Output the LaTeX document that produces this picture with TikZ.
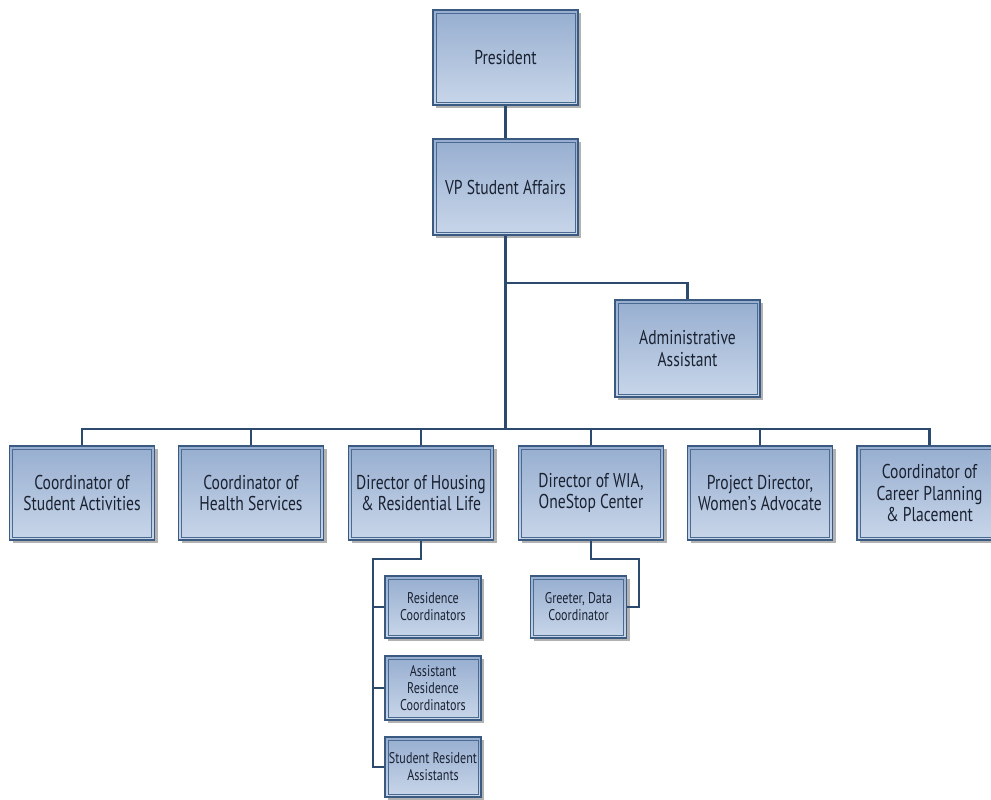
\documentclass[tikz,border=0pt]{standalone}
\usepackage{fontspec}
\setmainfont[FakeStretch=0.78]{PT Sans}
\usetikzlibrary{shadows}
\definecolor{boxline}{HTML}{3A5A82}
\definecolor{inline}{HTML}{4A6A92}
\definecolor{topc}{HTML}{97AED0}
\definecolor{botc}{HTML}{C8D6E9}
\definecolor{txt}{HTML}{1A2232}
\definecolor{conn}{HTML}{2C4A6E}
\tikzset{
  obox/.style={draw=boxline, line width=1.3pt, top color=topc, bottom color=botc,
    align=center, text=txt, inner sep=2pt,
    font=\fontsize{20}{21.5}\selectfont,
    drop shadow={shadow xshift=3pt, shadow yshift=-3pt, fill=black!50, opacity=0.6},
    path picture={\draw[inline, line width=0.8pt]
      ([shift={(3pt,-3pt)}]path picture bounding box.north west) rectangle
      ([shift={(-3pt,3pt)}]path picture bounding box.south east);}},
  bigbox/.style={obox, minimum width=145pt, minimum height=95pt},
  smallbox/.style={obox, minimum width=96pt, font=\fontsize{15.5}{17}\selectfont},
  connector/.style={draw=conn, line width=2.1pt}
}
\begin{document}
\begin{tikzpicture}[x=1pt,y=-1pt]
\useasboundingbox (0,0) rectangle (991,800);
\clip (0,0) rectangle (991,800);
\fill[white] (0,0) rectangle (991,800);

% top
\node[bigbox] (pres) at (505.5,57.5) {President};
\node[bigbox, minimum height=96pt] (vp) at (505.5,187) {VP Student Affairs};
\node[bigbox, minimum height=97pt] (admin) at (687.5,348.5) {Administrative\\Assistant};

% row
\node[bigbox, minimum height=94pt] (b1) at (82,493) {Coordinator of\\Student Activities};
\node[bigbox, minimum height=94pt] (b2) at (251,493) {Coordinator of\\Health Services};
\node[bigbox, minimum height=94pt] (b3) at (421,493) {Director of Housing\\\& Residential Life};
\node[bigbox, minimum height=94pt] (b4) at (591,493) {Director of WIA,\\OneStop Center};
\node[bigbox, minimum height=94pt] (b5) at (760,493) {Project Director,\\Women's Advocate};
\node[bigbox, minimum height=94pt] (b6) at (929.5,493) {Coordinator of\\Career Planning\\\& Placement};

% sub
\node[smallbox, minimum height=62pt] (rc) at (433,607) {Residence\\Coordinators};
\node[smallbox, minimum height=64pt] (arc) at (433,688) {Assistant\\Residence\\Coordinators};
\node[smallbox, minimum height=60pt] (sra) at (433,767) {Student Resident\\Assistants};
\node[smallbox, minimum height=62pt] (gr) at (578.5,607) {Greeter, Data\\Coordinator};

% connectors
\coordinate (bar) at (0,429);
\coordinate (abar) at (0,283);
\coordinate (hk) at (373,559);
\coordinate (gk) at (639,559);

\draw[connector] (pres.south) -- (vp.north);
\draw[connector] (vp.south) -- (vp.south |- bar);
\draw[connector] (vp.south |- abar) -| (admin.north);
\draw[connector] (b1.north) -- (b1.north |- bar) -- (b6.north |- bar) -- (b6.north);
\draw[connector] (b2.north |- bar) -- (b2.north);
\draw[connector] (b3.north |- bar) -- (b3.north);
\draw[connector] (b4.north |- bar) -- (b4.north);
\draw[connector] (b5.north |- bar) -- (b5.north);

\draw[connector] (b3.south) |- (hk) -- (hk |- sra.west) -- (sra.west);
\draw[connector] (hk |- rc.west) -- (rc.west);
\draw[connector] (hk |- arc.west) -- (arc.west);
\draw[connector] (b4.south) |- (gk) |- (gr.east);
\end{tikzpicture}
\end{document}
